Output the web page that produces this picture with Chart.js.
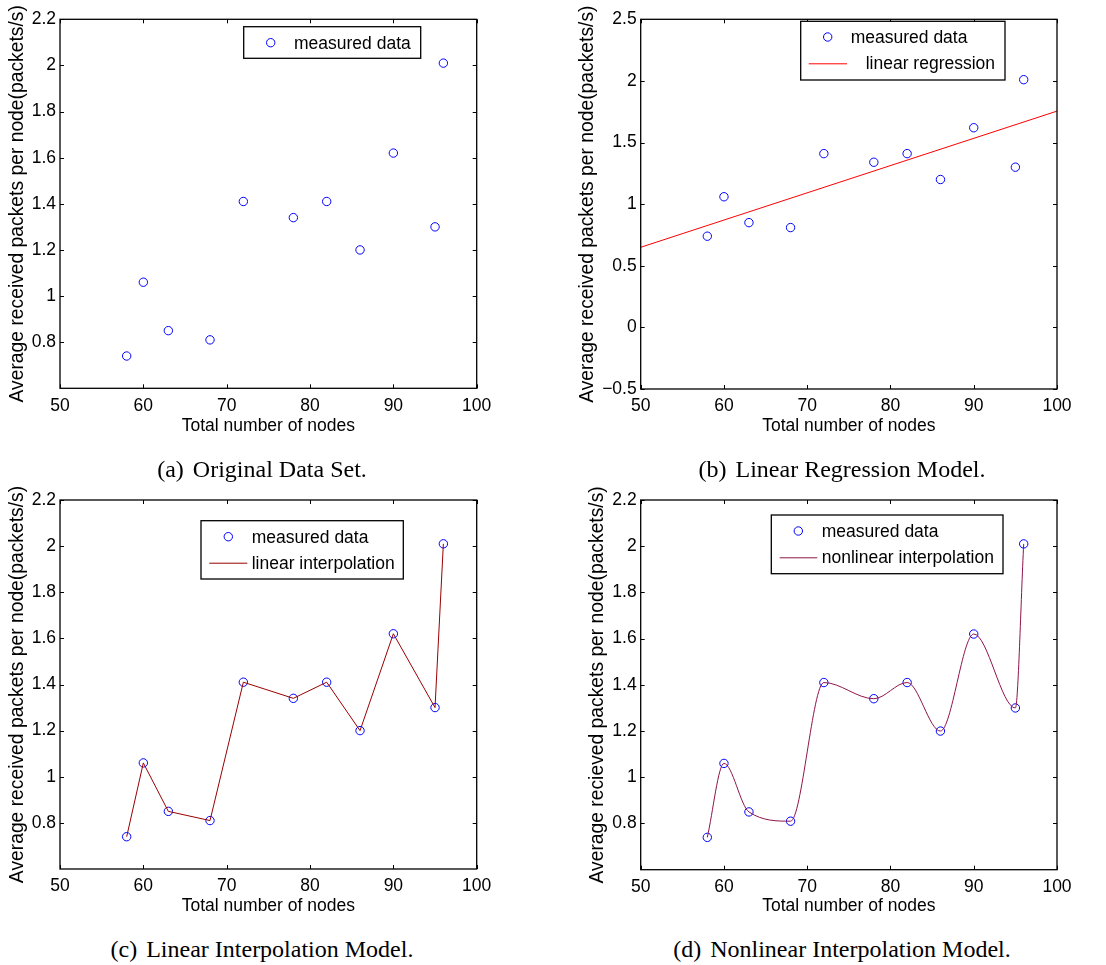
<!DOCTYPE html>
<html>
<head>
<meta charset="utf-8">
<script src="https://cdn.jsdelivr.net/npm/chart.js@4.4.1/dist/chart.umd.min.js"></script>
<style>
  body { margin: 0; background: #fff; width: 1106px; height: 965px; position: relative; overflow: hidden; }
  canvas { position: absolute; }
  .cap { position: absolute; width: 400px; text-align: center; font: 24px/24px "Liberation Serif", serif; color: #000; white-space: nowrap; }
  .cap span { margin-right: 3px; }
</style>
</head>
<body>
<canvas id="chartA" width="553" height="445" style="left:0;top:0"></canvas>
<canvas id="chartB" width="553" height="445" style="left:553px;top:0"></canvas>
<canvas id="chartC" width="553" height="445" style="left:0;top:480px"></canvas>
<canvas id="chartD" width="553" height="445" style="left:553px;top:480px"></canvas>
<div class="cap" style="left:62px;top:457px"><span>(a)</span> Original Data Set.</div>
<div class="cap" style="left:642px;top:457px"><span>(b)</span> Linear Regression Model.</div>
<div class="cap" style="left:62px;top:937px"><span>(c)</span> Linear Interpolation Model.</div>
<div class="cap" style="left:642px;top:937px"><span>(d)</span> Nonlinear Interpolation Model.</div>
<script>
// measured points (same in all four panels)
const nodes = [58, 60, 63, 68, 72, 78, 82, 86, 90, 95, 96];
const measured = [0.74, 1.06, 0.85, 0.81, 1.41, 1.34, 1.41, 1.20, 1.62, 1.30, 2.01];

// fitted line in (b), read at the axis ends
const regressionX = [50, 100];
const regressionY = [0.65, 1.755];

const xTicks = [50, 60, 70, 80, 90, 100];
const yTicksPackets = [0.8, 1, 1.2, 1.4, 1.6, 1.8, 2, 2.2];
const yTicksRegression = [-0.5, 0, 0.5, 1, 1.5, 2, 2.5];

const FONT = "'Liberation Sans', Arial, sans-serif";
const toPoints = (xs, ys) => xs.map((x, i) => ({ x: x, y: ys[i] }));

// matlab style box with inward ticks on all four sides
const framePlugin = {
  id: 'frame',
  afterDraw(chart) {
    const { ctx, chartArea: a, scales } = chart;
    ctx.save();
    ctx.strokeStyle = '#000';
    ctx.lineWidth = 1;
    ctx.beginPath();
    scales.x.ticks.forEach(t => {
      const px = Math.round(scales.x.getPixelForValue(t.value)) + 0.5;
      ctx.moveTo(px, a.bottom); ctx.lineTo(px, a.bottom - 4);
      ctx.moveTo(px, a.top); ctx.lineTo(px, a.top + 4);
    });
    scales.y.ticks.forEach(t => {
      const py = Math.round(scales.y.getPixelForValue(t.value)) + 0.5;
      ctx.moveTo(a.left, py); ctx.lineTo(a.left + 4, py);
      ctx.moveTo(a.right, py); ctx.lineTo(a.right - 4, py);
    });
    ctx.stroke();
    ctx.lineWidth = 1.3;
    ctx.strokeRect(a.left, a.top, a.right - a.left, a.bottom - a.top);
    ctx.restore();
  }
};

// legend drawn inside the axes, with a box
const boxLegend = {
  id: 'boxLegend',
  afterDraw(chart, args, opts) {
    const { ctx } = chart;
    const b = opts.box;
    if (!b) return;
    ctx.save();
    ctx.fillStyle = '#fff';
    ctx.fillRect(b[0], b[1], b[2] - b[0], b[3] - b[1]);
    ctx.strokeStyle = '#000';
    ctx.lineWidth = 1.3;
    ctx.strokeRect(b[0], b[1], b[2] - b[0], b[3] - b[1]);
    ctx.font = '17.5px ' + FONT;
    ctx.textBaseline = 'middle';
    opts.items.forEach(it => {
      ctx.strokeStyle = it.color;
      ctx.lineWidth = 1;
      ctx.beginPath();
      if (it.kind === 'marker') {
        ctx.arc(it.mx, it.y, 4.2, 0, Math.PI * 2);
      } else {
        ctx.moveTo(it.x1, it.y + 0.5);
        ctx.lineTo(it.x2, it.y + 0.5);
      }
      ctx.stroke();
      ctx.fillStyle = '#000';
      ctx.fillText(it.label, it.tx, it.y + 1);
    });
    ctx.restore();
  }
};

const measuredSet = {
  label: 'measured data',
  data: toPoints(nodes, measured),
  showLine: false,
  pointStyle: 'circle',
  pointRadius: 4.2,
  pointBorderWidth: 1,
  pointBorderColor: '#0000ff',
  pointBackgroundColor: 'rgba(0,0,0,0)',
  order: 2
};

function makeChart(id, p) {
  const datasets = [measuredSet].concat(p.lines || []);
  return new Chart(document.getElementById(id), {
    type: 'scatter',
    data: { datasets: datasets },
    options: {
      responsive: false,
      animation: false,
      events: [],
      layout: { padding: { left: 0, top: p.area.top, right: 553 - p.area.right, bottom: 0 } },
      plugins: {
        legend: { display: false },
        tooltip: { enabled: false },
        boxLegend: p.legend
      },
      scales: {
        x: {
          type: 'linear',
          min: 50,
          max: 100,
          afterBuildTicks: s => { s.ticks = xTicks.map(v => ({ value: v })); },
          afterFit: s => { s.height = 445 - p.area.bottom; },
          grid: { display: false, drawTicks: false },
          border: { display: false },
          ticks: { color: '#000', font: { family: FONT, size: 17.5 }, padding: 7, maxRotation: 0 },
          title: {
            display: true,
            text: 'Total number of nodes',
            color: '#000',
            font: { family: FONT, size: 17.5 },
            padding: { top: 0, bottom: 8 }
          }
        },
        y: {
          type: 'linear',
          min: p.yMin,
          max: p.yMax,
          afterBuildTicks: s => { s.ticks = p.yTicks.map(v => ({ value: v })); },
          afterFit: s => { s.width = p.area.left; },
          grid: { display: false, drawTicks: false },
          border: { display: false },
          ticks: {
            color: '#000',
            font: { family: FONT, size: 17.5 },
            padding: 4,
            callback: v => String(v).replace('-', '\u2212')
          },
          title: {
            display: true,
            text: p.yTitle,
            color: '#000',
            font: { family: FONT, size: 19.3 },
            padding: { top: p.titlePad, bottom: 0 }
          }
        }
      }
    },
    plugins: [framePlugin, boxLegend]
  });
}

makeChart('chartA', {
  area: { left: 60, top: 19.3, right: 476.7, bottom: 388.3 },
  yMin: 0.6, yMax: 2.2, yTicks: yTicksPackets,
  yTitle: 'Average received packets per node(packets/s)',
  titlePad: 6,
  legend: {
    box: [243.7, 26.7, 420.7, 58.3],
    items: [{ kind: 'marker', color: '#0000ff', mx: 270.7, y: 42.7, tx: 294, label: 'measured data' }]
  }
});

makeChart('chartB', {
  area: { left: 87.7, top: 19.3, right: 504, bottom: 389 },
  yMin: -0.5, yMax: 2.5, yTicks: yTicksRegression,
  yTitle: 'Average received packets per node(packets/s)',
  titlePad: 23,
  lines: [{
    label: 'linear regression',
    data: toPoints(regressionX, regressionY),
    showLine: true,
    pointRadius: 0,
    borderColor: '#ff0000',
    borderWidth: 1,
    order: 1
  }],
  legend: {
    box: [247.7, 21.3, 452, 80],
    items: [
      { kind: 'marker', color: '#0000ff', mx: 274.7, y: 37, tx: 297.7, label: 'measured data' },
      { kind: 'line', color: '#ff0000', x1: 255.7, x2: 294, y: 63.3, tx: 312.7, label: 'linear regression' }
    ]
  }
});

makeChart('chartC', {
  area: { left: 60, top: 20, right: 476.7, bottom: 389 },
  yMin: 0.6, yMax: 2.2, yTicks: yTicksPackets,
  yTitle: 'Average received packets per node(packets/s)',
  titlePad: 6,
  lines: [{
    label: 'linear interpolation',
    data: toPoints(nodes, measured),
    showLine: true,
    pointRadius: 0,
    borderColor: '#990000',
    borderWidth: 1,
    order: 1
  }],
  legend: {
    box: [201, 40.7, 403.3, 99],
    items: [
      { kind: 'marker', color: '#0000ff', mx: 228.3, y: 56.7, tx: 251.7, label: 'measured data' },
      { kind: 'line', color: '#990000', x1: 209.3, x2: 247.3, y: 82.7, tx: 251.7, label: 'linear interpolation' }
    ]
  }
});

makeChart('chartD', {
  area: { left: 87.7, top: 20, right: 504, bottom: 389.7 },
  yMin: 0.6, yMax: 2.2, yTicks: yTicksPackets,
  yTitle: 'Average recieved packets per node(packets/s)',
  titlePad: 33,
  lines: [{
    label: 'nonlinear interpolation',
    data: toPoints(nodes, measured),
    showLine: true,
    cubicInterpolationMode: 'monotone',
    pointRadius: 0,
    borderColor: '#8e1449',
    borderWidth: 1,
    order: 1
  }],
  legend: {
    box: [218.3, 35, 450, 93.7],
    items: [
      { kind: 'marker', color: '#0000ff', mx: 245.3, y: 51, tx: 268.7, label: 'measured data' },
      { kind: 'line', color: '#8e1449', x1: 226.7, x2: 264.3, y: 77.3, tx: 268.7, label: 'nonlinear interpolation' }
    ]
  }
});
</script>
</body>
</html>
